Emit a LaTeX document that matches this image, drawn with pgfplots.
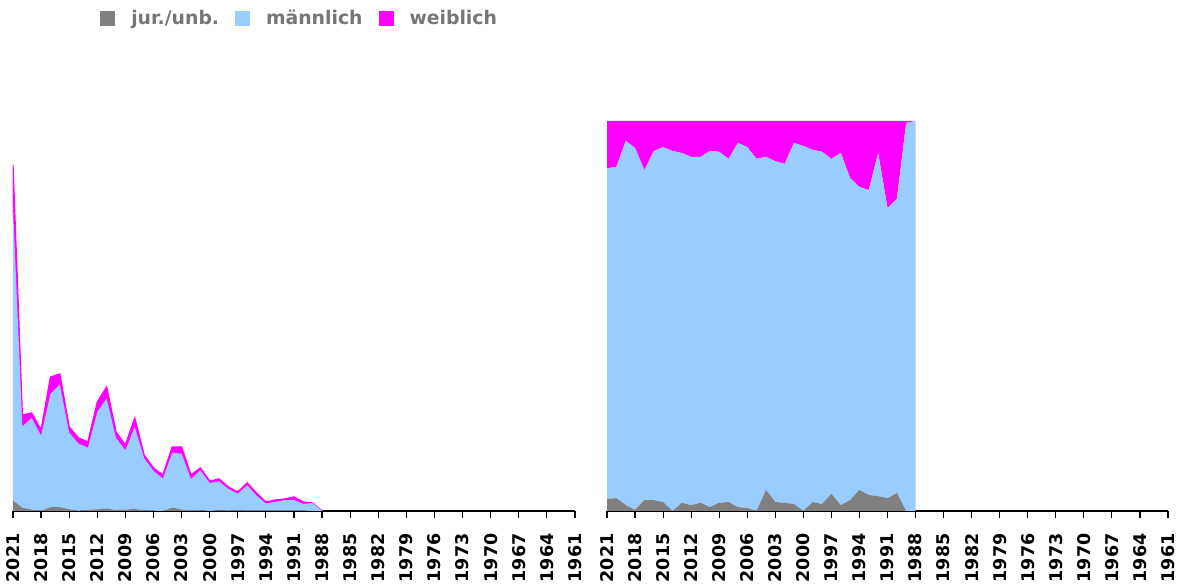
\documentclass[border=0pt]{standalone}
\usepackage{fontspec}
\setmainfont{DejaVu Sans}
\usepackage{pgfplots}
\usepackage{pgfplotstable}
\pgfplotsset{compat=1.18}
\definecolor{jur}{HTML}{808080}
\definecolor{maen}{HTML}{99CCFF}
\definecolor{weib}{HTML}{FF00FF}
\definecolor{legtext}{HTML}{767676}

% absolute counts (left panel)
\pgfplotstableread{
year jur maen weib
2021 10.7 293.4 41.9
2020 3.2 81.5 11.3
2019 1.5 91.5 5.0
2018 0.2 75.2 5.6
2017 3.8 113.3 16.9
2016 3.8 122.7 10.5
2015 1.9 76.5 5.6
2014 0.0 67.4 5.6
2013 1.4 61.9 5.7
2012 1.6 97.4 10.0
2011 2.6 110.0 11.4
2010 0.8 72.1 6.1
2009 1.4 59.4 5.2
2008 2.1 81.9 9.0
2007 0.6 52.3 3.1
2006 0.3 39.8 2.9
2005 0.0 32.5 3.5
2004 3.5 54.6 5.9
2003 1.5 55.9 6.6
2002 0.8 31.2 4.0
2001 0.8 39.8 2.4
2000 0.0 28.1 1.9
1999 0.7 28.9 2.4
1998 0.4 21.7 1.9
1997 0.8 16.4 1.8
1996 0.4 25.3 2.3
1995 0.5 14.9 2.6
1994 0.5 7.0 1.5
1993 0.5 8.6 1.9
1992 0.5 10.5 1.0
1991 0.5 10.4 3.1
1990 0.4 6.8 1.8
1989 0.0 7.9 0.1
1988 0.0 0.0 0.0
}\absdata

% shares in percent (right panel)
\pgfplotstableread{
year jur maen weib
2021 3.1 84.8 12.1
2020 3.3 84.9 11.8
2019 1.5 93.4 5.1
2018 0.3 92.8 6.9
2017 2.8 84.6 12.6
2016 2.8 89.5 7.7
2015 2.3 91.0 6.7
2014 0.0 92.3 7.7
2013 2.1 89.7 8.2
2012 1.5 89.3 9.2
2011 2.1 88.7 9.2
2010 1.0 91.3 7.7
2009 2.1 90.0 7.9
2008 2.3 88.0 9.7
2007 1.0 93.4 5.6
2006 0.8 92.5 6.7
2005 0.0 90.3 9.7
2004 5.4 85.4 9.2
2003 2.3 87.4 10.3
2002 2.1 86.9 11.0
2001 1.8 92.6 5.6
2000 0.0 93.6 6.4
1999 2.3 90.3 7.4
1998 1.8 90.3 7.9
1997 4.4 85.9 9.7
1996 1.5 90.3 8.2
1995 2.8 82.6 14.6
1994 5.4 77.7 16.9
1993 4.1 78.2 17.7
1992 3.8 88.0 8.2
1991 3.3 74.4 22.3
1990 4.6 75.4 20.0
1989 0.0 99.5 0.5
1988 0.0 100.0 0.0
}\reldata

\pgfplotsset{
  panel/.style={
    scale only axis, width=562bp, height=390bp,
    anchor=south west,
    x dir=reverse, xmin=1961, xmax=2021,
    xtick={2021,2018,2015,2012,2009,2006,2003,2000,1997,1994,1991,1988,1985,1982,1979,1976,1973,1970,1967,1964,1961},
    axis x line*=bottom, axis y line=none,
    ymin=0, ytick=\empty,
    xtick align=outside, major tick length=7bp,
    tick style={black, line width=1.2bp},
    axis line style={black, line width=1.4bp},
    xticklabel shift=12bp,
    xticklabel style={rotate=90, anchor=east, font=\fontsize{17.5bp}{20bp}\selectfont\bfseries},
    /pgf/number format/assume math mode=true,
    /pgf/number format/1000 sep={},
    stack plots=y,
    enlargelimits=false,
  }
}

\begin{document}
\begin{tikzpicture}
\path[use as bounding box] (0bp,0bp) rectangle (1194bp,587bp);

\begin{axis}[panel, at={(13bp,76bp)}, ymax=390,
  legend columns=3,
  legend image code/.code={\path[#1, draw=none] (0bp,-7.5bp) rectangle (15bp,7.5bp);},
  legend style={at={(0.155,1.264)}, anchor=west, draw=none, fill=none,
    inner sep=0pt, text=legtext,
    font=\fontsize{18.8bp}{22bp}\selectfont\bfseries,
    /tikz/every odd column/.append style={column sep=14bp},
    /tikz/every even column/.append style={column sep=14bp}},
]
\addplot[fill=jur, draw=none] table[x=year, y=jur] {\absdata} \closedcycle;
\addplot[fill=maen, draw=none] table[x=year, y=maen] {\absdata} \closedcycle;
\addplot[fill=weib, draw=weib, line width=1.3bp] table[x=year, y=weib] {\absdata} \closedcycle;
\legend{jur./unb., männlich, weiblich}
\end{axis}

\begin{axis}[panel, at={(607bp,76bp)}, width=561bp, ymax=100]
\addplot[fill=jur, draw=none] table[x=year, y=jur] {\reldata} \closedcycle;
\addplot[fill=maen, draw=none] table[x=year, y=maen] {\reldata} \closedcycle;
\addplot[fill=weib, draw=none] table[x=year, y=weib] {\reldata} \closedcycle;
\end{axis}
\end{tikzpicture}
\end{document}
